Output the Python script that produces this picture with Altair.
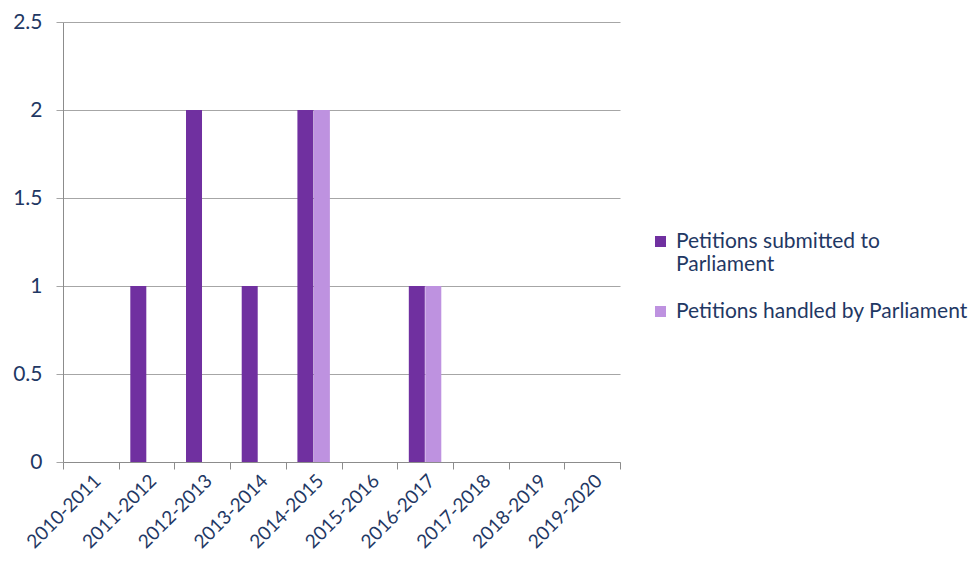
import altair as alt
import pandas as pd

years = ["2010-2011", "2011-2012", "2012-2013", "2013-2014", "2014-2015",
         "2015-2016", "2016-2017", "2017-2018", "2018-2019", "2019-2020"]
submitted = [0, 1, 2, 1, 2, 0, 1, 0, 0, 0]
handled = [0, 0, 0, 0, 2, 0, 1, 0, 0, 0]
series = ["Petitions submitted to Parliament", "Petitions handled by Parliament"]
colors = ["#7030A0", "#BE92E0"]

rows = []
for i, y in enumerate(years):
    rows.append({"year": y, "series": series[0], "value": submitted[i]})
    rows.append({"year": y, "series": series[1], "value": handled[i]})
df = pd.DataFrame(rows)

FONT = "Lato"
TXT = "#1F3864"

chart = alt.Chart(df).mark_bar(size=16).encode(
    x=alt.X("year:N", sort=years, title=None,
            scale=alt.Scale(paddingInner=0, paddingOuter=0),
            axis=alt.Axis(tickBand="extent", labelAngle=-45, labelAlign="right",
                          labelBaseline="top", labelPadding=2, tickSize=7,
                          domainColor="#8C8C8C", tickColor="#8C8C8C",
                          labelFontSize=19, labelColor=TXT, labelFont=FONT,
                          grid=False)),
    xOffset=alt.XOffset("series:N", sort=series,
                        scale=alt.Scale(paddingInner=0, paddingOuter=0.69)),
    y=alt.Y("value:Q", title=None,
            scale=alt.Scale(domain=[0, 2.5]),
            axis=alt.Axis(values=[0, 0.5, 1, 1.5, 2, 2.5], tickSize=7,
                          labelPadding=14, labelFontSize=21, labelColor=TXT,
                          labelFont=FONT, domainColor="#8C8C8C",
                          tickColor="#A6A6A6", gridColor="#A6A6A6",
                          labelExpr="datum.value == 0 ? '0' : format(datum.value, '')")),
    color=alt.Color("series:N", sort=series,
                    scale=alt.Scale(domain=series, range=colors),
                    legend=alt.Legend(title=None, orient="none", legendX=587, legendY=209,
                                      symbolType="square", symbolSize=121,
                                      symbolStrokeWidth=0, labelFontSize=21,
                                      labelFont=FONT, labelColor=TXT, labelLimit=400,
                                      rowPadding=25, labelOffset=5,
                                      labelExpr="datum.label == 'Petitions submitted to Parliament' ? ['Petitions submitted to', 'Parliament'] : datum.label")),
).properties(
    width=557, height=440,
    autosize=alt.AutoSizeParams(type="none"),
    padding={"left": 55, "top": 14, "right": 350, "bottom": 92},
    background="white",
).configure_view(stroke=None)

chart.save("out.html", embed_options={"renderer": "svg", "actions": False})
